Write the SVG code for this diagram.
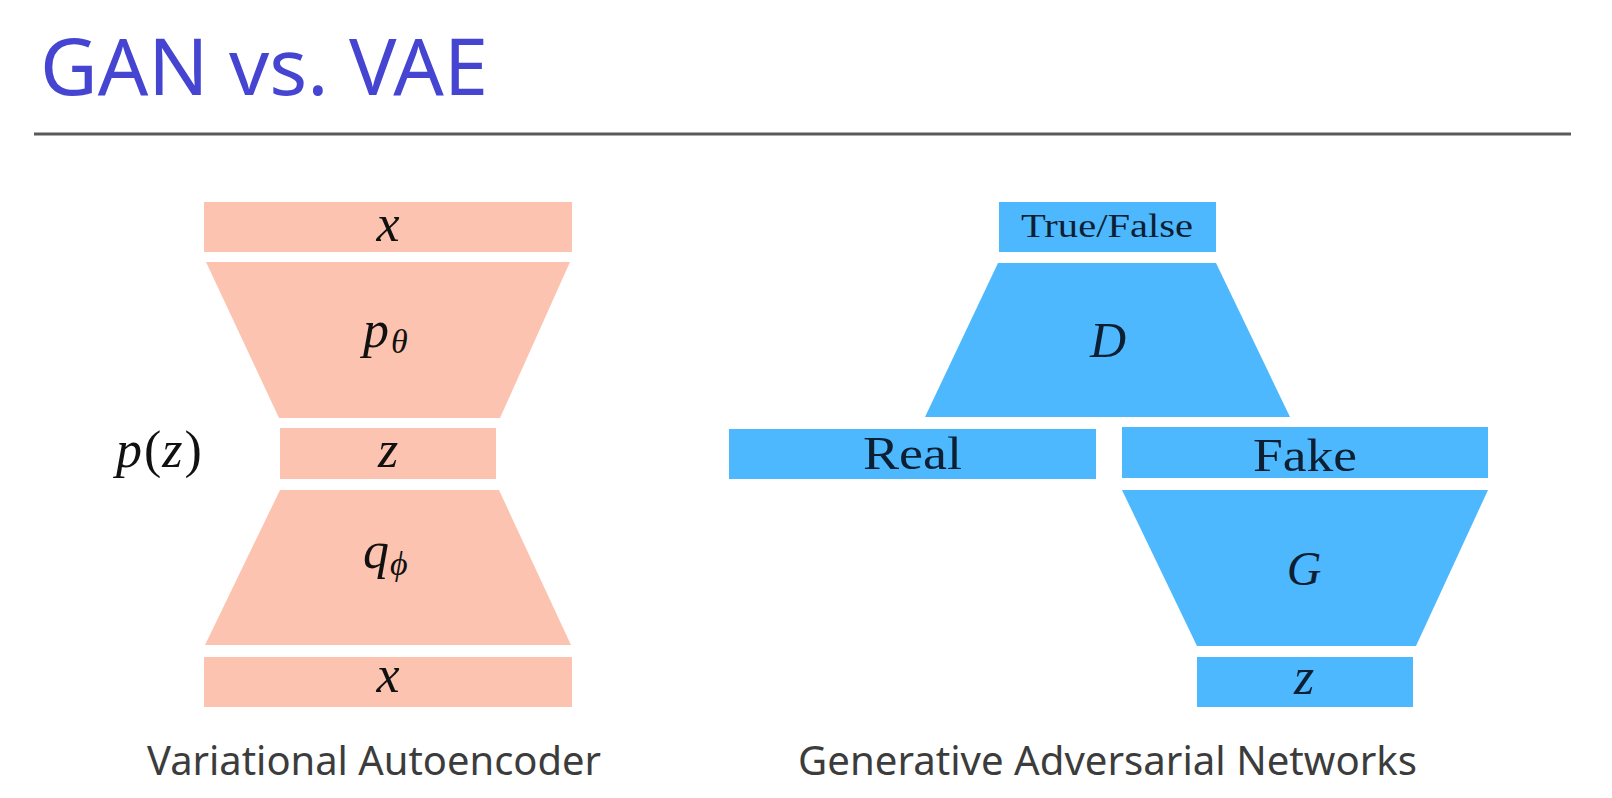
<svg xmlns="http://www.w3.org/2000/svg" width="1612" height="798" viewBox="0 0 1612 798">
<style>
.vae{fill:#fcc4b0}
.gan{fill:#4db8fd}
.m{font-family:"Liberation Serif","DejaVu Serif",serif;font-style:italic;fill:#111}
.r{font-family:"Liberation Serif","DejaVu Serif",serif;fill:#0d1f33}
.mg{font-family:"Liberation Serif","DejaVu Serif",serif;font-style:italic;fill:#0d1f33}
.cap{font-family:"Noto Sans","Open Sans",sans-serif;fill:#3c3c3c;font-size:40px}
</style>
<rect width="1612" height="798" fill="#ffffff"/>
<g id="title">
<text x="40" y="95" font-family="Noto Sans, Open Sans, sans-serif" font-size="78" fill="#4545d2" textLength="448" lengthAdjust="spacingAndGlyphs">GAN vs. VAE</text>
<line x1="34" y1="134" x2="1571" y2="134" stroke="#5a5a5a" stroke-width="3"/>
</g>
<g id="vae-x-top">
<rect class="vae" x="204" y="202" width="368" height="50"/>
<text class="m" x="388" y="241" font-size="52" text-anchor="middle">x</text>
</g>
<g id="vae-decoder">
<polygon class="vae" points="206,262 570,262 500,418 279,418"/>
<text class="m" x="363" y="347" font-size="52">p<tspan font-size="34" dx="2" dy="6">θ</tspan></text>
</g>
<g id="vae-z">
<rect class="vae" x="280" y="428" width="216" height="51"/>
<text class="m" x="388" y="467" font-size="52" text-anchor="middle">z</text>
</g>
<g id="vae-pz">
<text class="m" x="116" y="467" font-size="52">p<tspan font-style="normal" dx="2">(</tspan><tspan dx="1">z</tspan><tspan font-style="normal" dx="2">)</tspan></text>
</g>
<g id="vae-encoder">
<polygon class="vae" points="280,490 499,490 571,645 205,645"/>
<text class="m" x="363" y="568" font-size="52">q<tspan font-size="34" dx="1" dy="7">ϕ</tspan></text>
</g>
<g id="vae-x-bottom">
<rect class="vae" x="204" y="657" width="368" height="50"/>
<text class="m" x="388" y="692" font-size="52" text-anchor="middle">x</text>
</g>
<g id="vae-caption">
<text class="cap" x="147" y="775" textLength="454" lengthAdjust="spacingAndGlyphs">Variational Autoencoder</text>
</g>
<g id="gan-truefalse">
<rect class="gan" x="999" y="202" width="217" height="50"/>
<text class="r" x="1021" y="237" font-size="34" textLength="172" lengthAdjust="spacingAndGlyphs">True/False</text>
</g>
<g id="gan-d">
<polygon class="gan" points="998,263 1216,263 1290,417 925,417"/>
<text class="mg" x="1108" y="357" font-size="50" text-anchor="middle">D</text>
</g>
<g id="gan-real">
<rect class="gan" x="729" y="429" width="367" height="50"/>
<text class="r" x="863" y="469" font-size="47" textLength="99" lengthAdjust="spacingAndGlyphs">Real</text>
</g>
<g id="gan-fake">
<rect class="gan" x="1122" y="427" width="366" height="51"/>
<text class="r" x="1253" y="471" font-size="47" textLength="104" lengthAdjust="spacingAndGlyphs">Fake</text>
</g>
<g id="gan-g">
<polygon class="gan" points="1122,490 1488,490 1416,646 1197,646"/>
<text class="mg" x="1304" y="585" font-size="48" text-anchor="middle">G</text>
</g>
<g id="gan-z">
<rect class="gan" x="1197" y="657" width="216" height="50"/>
<text class="mg" x="1304" y="694" font-size="52" text-anchor="middle">z</text>
</g>
<g id="gan-caption">
<text class="cap" x="798" y="775" textLength="619" lengthAdjust="spacingAndGlyphs">Generative Adversarial Networks</text>
</g>
</svg>
